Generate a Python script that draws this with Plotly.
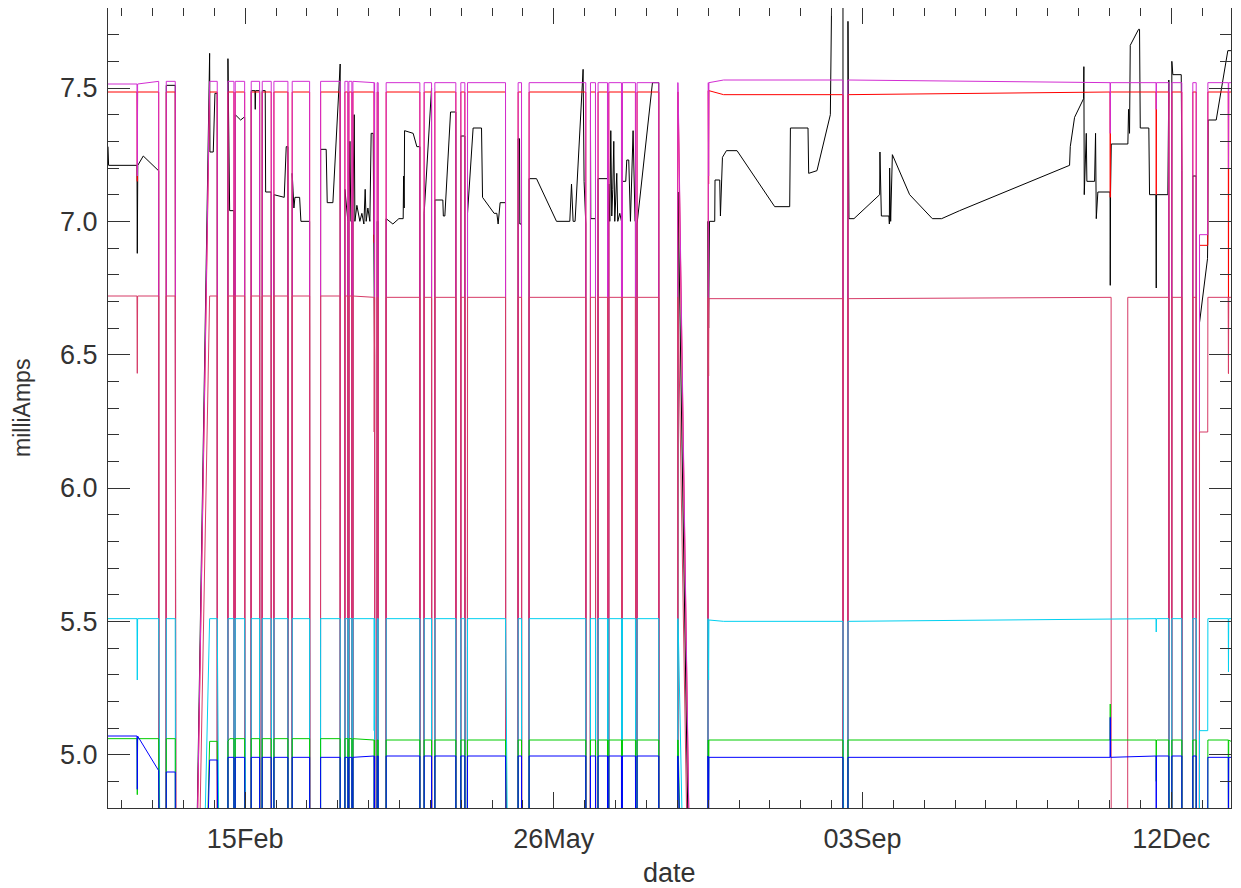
import numpy as np
import pandas as pd
import plotly.graph_objects as go

BASE = pd.Timestamp("2009-01-01")   # day-of-year origin (days below are fractional days after Jan 1)
X_RANGE = [0.57, 364.39]
Y_RANGE = [4.8, 7.8]
Y_TITLE = "milliAmps"
X_TITLE = "date"

# ---- outages shared by all channels (days): last good sample, first zero, last zero, first good
out_a = [16.99, 22.36, 35.96, 41.37, 44.84, 49.69, 53.45, 58.86, 65.89, 75.79, 78.29, 79.58, 86.93,
         88.10, 101.60, 105.39, 113.26, 116.18, 129.36, 134.54, 155.36, 158.50, 162.39, 166.92,
         171.45, 179.00, 185.25, 238.68, 344.25, 348.46, 353.12]
out_b = [17.08, 22.75, 36.06, 41.47, 44.93, 49.79, 53.55, 58.96, 65.98, 75.89, 78.35, 79.65, 87.03,
         88.20, 101.70, 105.49, 113.36, 116.27, 129.45, 134.63, 155.46, 158.60, 162.48, 167.02,
         171.55, 179.10, 194.87, 238.78, 344.35, 348.56, 353.22]
out_c = [19.35, 22.75, 39.33, 41.69, 46.88, 50.44, 54.23, 60.15, 69.35, 77.22, 78.55, 79.84, 87.68,
         90.60, 102.90, 106.36, 114.78, 116.95, 133.34, 136.90, 156.78, 159.25, 162.71, 167.15,
         171.87, 185.05, 194.87, 240.20, 345.12, 351.92, 354.09]
out_d = [19.45, 33.50, 39.43, 41.79, 46.97, 50.54, 54.32, 60.25, 69.45, 77.32, 78.61, 79.91, 87.78,
         90.69, 103.00, 106.46, 114.88, 117.05, 133.44, 137.00, 156.88, 159.34, 162.81, 167.24,
         171.97, 185.15, 194.96, 240.30, 345.22, 352.02, 354.19]

# ---- channel readings (days, milliAmps)
blk_t = [0.57, 0.76, 9.96, 10.06, 10.22, 12.00, 16.92,
         19.45, 22.36,
         33.50, 33.60, 34.67, 35.22, 35.96,
         39.43, 39.98, 41.37,
         41.79, 43.54, 44.61, 44.84,
         46.97, 48.17, 48.27, 48.40, 49.69,
         50.54, 51.51, 51.64, 53.45,
         54.32, 57.66, 58.31, 58.86,
         60.25, 60.80, 61.13, 62.65, 63.07, 65.89,
         69.45, 71.26, 71.59, 73.43, 75.70, 75.79,
         77.32, 78.25, 78.61, 78.94, 79.26, 79.55, 79.91, 80.33, 80.56, 81.20, 82.17, 82.82, 83.47,
         83.89, 84.21, 84.76, 85.41, 85.83, 86.48, 86.81, 86.93,
         87.78, 88.10,
         90.69, 92.86, 94.80, 96.20, 96.33, 96.52, 96.65, 99.43, 100.63, 101.60,
         103.00, 105.39,
         106.46, 109.05, 109.21, 109.70, 111.55, 113.26,
         114.88, 116.18,
         117.05, 118.86, 121.58, 121.91, 125.66, 126.54, 126.96, 127.61, 129.36,
         133.44, 133.89, 133.99, 134.54,
         137.00, 139.40, 145.87, 150.18, 150.73, 151.25, 151.89, 154.49, 154.81, 155.36,
         156.88, 156.98, 158.50,
         159.34, 162.39,
         162.81, 163.13, 163.46, 163.78, 164.10, 164.43, 164.75, 165.40, 165.72, 166.37, 166.92,
         167.24, 168.31, 168.64, 169.28, 169.83, 170.68, 171.32, 171.45,
         171.97, 176.96, 179.00,
         185.15, 185.25,
         194.96, 195.15, 195.42, 197.13, 197.23, 198.75, 198.98, 199.63, 200.92, 204.36, 216.56,
         221.42, 221.65, 227.35, 227.57, 230.26, 234.59, 235.12, 238.68,
         240.30, 240.62, 242.24, 250.57, 250.66, 251.12, 253.58, 253.71, 253.80, 254.13, 254.45,
         254.68, 260.28, 267.63, 270.64, 276.47, 312.09, 312.32, 313.71, 315.33, 316.63, 316.72,
         316.85, 317.50, 317.70, 320.19, 320.51, 320.74, 321.26, 325.21, 325.27, 325.37, 325.60,
         330.98, 331.20, 331.52, 331.75, 334.44, 334.76, 334.99, 337.77, 338.00, 340.04, 340.17,
         340.27, 343.93, 344.15, 344.25,
         345.22, 345.55, 348.27, 348.46,
         352.02, 353.12,
         354.19, 356.78, 356.88, 356.98, 359.60, 361.22, 362.51, 363.36, 364.39]
blk_v = [7.28, 7.21, 7.21, 6.88, 7.21, 7.245, 7.19,
         7.51, 7.51,
         7.63, 7.26, 7.26, 7.48, 7.48,
         7.61, 7.04, 7.04,
         7.40, 7.38, 7.39, 7.39,
         7.49, 7.49, 7.42, 7.49, 7.49,
         7.49, 7.49, 7.11, 7.11,
         7.10, 7.09, 7.28, 7.28,
         7.18, 7.05, 7.09, 7.09, 7.00, 7.00,
         7.27, 7.27, 7.07, 7.07, 7.59, 7.59,
         7.12, 7.00, 7.00, 7.30, 7.00, 7.00, 7.05, 7.40, 7.00, 7.06, 7.00, 7.03, 6.99,
         7.12, 7.00, 7.05, 7.00, 7.33, 7.33, 6.50, 6.50,
         7.00, 7.00,
         7.01, 6.99, 7.01, 7.01, 7.17, 7.05, 7.34, 7.33, 7.28, 7.28,
         7.03, 7.50,
         7.08, 7.08, 7.02, 7.02, 7.41, 7.41,
         7.32, 7.32,
         7.03, 7.35, 7.35, 7.09, 7.03, 7.03, 6.99, 7.07, 7.07,
         7.31, 7.31, 6.99, 6.99,
         7.16, 7.16, 7.00, 7.00, 7.14, 7.00, 7.00, 7.57, 7.15, 6.99,
         7.38, 7.01, 7.01,
         7.16, 7.16,
         7.14, 7.00, 7.34, 7.02, 7.12, 7.30, 7.00, 7.18, 7.00, 7.03, 7.00,
         7.15, 7.15, 7.23, 7.23, 7.00, 7.34, 7.00, 7.00,
         6.99, 7.52, 7.52,
         7.11, 7.11,
         7.00, 6.60, 7.00, 7.00, 7.155, 7.155, 7.02, 7.24, 7.265, 7.265, 7.055,
         7.055, 7.35, 7.35, 7.18, 7.19, 7.40, 7.95, 7.95,
         7.75, 7.01, 7.01, 7.10, 7.26, 7.02, 7.02, 6.99, 7.20, 7.00, 7.24,
         7.25, 7.10, 7.01, 7.01, 7.04, 7.21, 7.28, 7.39, 7.43, 7.46, 7.58,
         7.10, 7.33, 7.15, 7.15, 7.33, 7.01, 7.11, 7.11, 6.76, 7.11, 7.29,
         7.29, 7.42, 7.33, 7.66, 7.72, 7.72, 7.35, 7.35, 7.10, 7.10, 6.75,
         7.10, 7.10, 7.53, 7.53,
         7.60, 7.55, 7.55, 7.19,
         7.17, 7.17,
         6.62, 6.86, 6.95, 7.38, 7.38, 7.50, 7.58, 7.64, 7.64]

red_t = [0.57, 9.96, 10.06, 10.16, 86.75, 86.81, 86.87, 195.05, 195.15, 195.25, 200.0, 325.20, 325.27,
         325.35, 340.10, 340.17, 340.25, 354.19, 356.85, 356.90, 363.50, 363.57, 363.65, 364.39]
red_v = [7.485, 7.485, 7.15, 7.485, 7.485, 6.92, 7.485, 7.49, 7.14, 7.49, 7.475, 7.485, 7.09,
         7.485, 7.485, 7.10, 7.485, 6.91, 6.91, 7.485, 7.485, 6.43, 7.485, 7.485]

mag_t = [0.57, 9.96, 10.06, 10.16, 16.99, 86.75, 86.81, 86.87, 195.05, 195.15, 195.25, 200.0, 325.20,
         325.27, 325.35, 340.10, 340.17, 340.25, 354.19, 356.85, 356.90, 363.50, 363.57, 363.65, 364.39]
mag_v = [7.515, 7.515, 7.17, 7.515, 7.525, 7.52, 6.95, 7.52, 7.52, 7.17, 7.52, 7.53, 7.52,
         7.33, 7.52, 7.52, 7.42, 7.52, 6.95, 6.95, 7.52, 7.52, 7.20, 7.52, 7.52]

pnk_t = [0.57, 9.96, 10.06, 10.16, 86.75, 86.81, 86.87, 195.05, 195.15, 195.25, 325.55, 325.65,
         330.85, 330.95, 354.19, 356.85, 356.90, 363.50, 363.57, 363.65, 364.39]
pnk_v = [6.72, 6.72, 6.43, 6.72, 6.715, 6.21, 6.715, 6.71, 6.42, 6.71, 6.715, 0.0,
         0.0, 6.715, 6.21, 6.21, 6.715, 6.715, 6.43, 6.715, 6.715]

cyn_t = [0.57, 9.96, 10.06, 10.16, 86.75, 86.81, 86.87, 195.05, 195.15, 195.25, 200.0, 340.10,
         340.17, 340.25, 354.19, 356.85, 356.90, 363.50, 363.57, 363.65, 364.39]
cyn_v = [5.51, 5.51, 5.28, 5.51, 5.51, 5.09, 5.51, 5.505, 5.28, 5.505, 5.50, 5.51,
         5.46, 5.51, 5.09, 5.09, 5.51, 5.51, 5.31, 5.51, 5.51]

grn_t = [0.57, 9.96, 10.06, 10.16, 22.36, 33.50, 40.0, 86.75, 86.81, 86.87, 195.05, 195.15, 195.25,
         325.20, 325.27, 325.35, 340.10, 340.17, 340.25, 354.19, 356.85, 356.90, 363.50, 363.57,
         363.65, 364.39]
grn_v = [5.06, 5.06, 4.85, 5.06, 5.06, 5.05, 5.06, 5.055, 4.67, 5.055, 5.055, 4.83, 5.055,
         5.055, 5.19, 5.055, 5.055, 4.90, 5.055, 4.67, 4.67, 5.055, 5.055, 4.60,
         5.055, 5.05]

blu_t = [0.57, 9.96, 10.06, 10.16, 16.99, 19.45, 22.36, 33.50, 36.0, 39.43, 86.75, 86.81, 86.87,
         195.05, 195.15, 195.25, 325.20, 325.27, 325.35, 340.10, 340.17, 340.25, 354.19, 356.85,
         356.90, 363.50, 363.57, 363.65, 364.39]
blu_v = [5.07, 5.07, 4.87, 5.07, 4.94, 4.935, 4.935, 4.98, 4.98, 4.99, 4.995, 4.62, 4.995,
         4.99, 4.60, 4.99, 4.99, 5.14, 4.99, 4.995, 4.50, 4.995, 4.62, 4.62,
         4.99, 4.99, 4.60, 4.99, 4.99]

channels = [
    ("black", blk_t, blk_v, "#000000"),
    ("red", red_t, red_v, "#ff0000"),
    ("magenta", mag_t, mag_v, "#d22ed2"),
    ("rose", pnk_t, pnk_v, "#d63a66"),
    ("cyan", cyn_t, cyn_v, "#00d0f0"),
    ("green", grn_t, grn_v, "#00cc00"),
    ("blue", blu_t, blu_v, "#0000ff"),
]


def held(t, v, x):
    i = int(np.searchsorted(np.asarray(t), x, side="right")) - 1
    return v[max(i, 0)]


def build(t, v):
    pts = [(tt, vv, 0, k) for k, (tt, vv) in enumerate(zip(t, v))]
    for j, (a, b, c, d) in enumerate(zip(out_a, out_b, out_c, out_d)):
        pts.append((a, held(t, v, a), 1, 4 * j))
        pts.append((b, 0.0, 1, 4 * j + 1))
        pts.append((c, 0.0, 1, 4 * j + 2))
        pts.append((d, held(t, v, d), 1, 4 * j + 3))
    pts.sort(key=lambda p: (p[0], p[2], p[3]))
    days = np.array([p[0] for p in pts])
    vals = [p[1] for p in pts]
    return BASE + pd.to_timedelta(days, unit="D"), vals


fig = go.Figure()
for name, t, v, col in channels:
    x, y = build(t, v)
    fig.add_trace(go.Scatter(x=x, y=y, mode="lines", name=name,
                             line=dict(color=col, width=1), hoverinfo="skip", showlegend=False))

x0 = BASE + pd.Timedelta(days=X_RANGE[0])
x1 = BASE + pd.Timedelta(days=X_RANGE[1])
FONT = "Liberation Sans, Arial, sans-serif"
TXT = "#333"
AX = "#333"
DAY_MS = 86400000

fig.update_layout(
    width=1233, height=880,
    margin=dict(l=100, r=10, t=0, b=80, autoexpand=False),
    paper_bgcolor="white", plot_bgcolor="white",
    font=dict(family=FONT, size=27, color=TXT),
    xaxis=dict(type="date", range=[x0, x1], tick0="2009-02-15", dtick=100 * DAY_MS,
               tickformat="%d%b", ticks="inside", ticklen=16, tickwidth=1, tickcolor=AX,
               showline=True, linecolor=AX, linewidth=1, mirror="allticks", automargin=False,
               showgrid=False, zeroline=False, ticklabelstandoff=7,
               tickfont=dict(family=FONT, size=27, color=TXT),
               minor=dict(tick0="2009-02-15", dtick=10 * DAY_MS, ticks="inside", ticklen=8,
                          tickwidth=1, tickcolor=AX, showgrid=False)),
    yaxis=dict(range=Y_RANGE, tick0=5.0, dtick=0.5, tickformat=".1f", ticks="inside",
               ticklen=22, tickwidth=1, tickcolor=AX, showline=True, linecolor=AX,
               linewidth=1, mirror="allticks", showgrid=False, zeroline=False, automargin=False,
               ticklabelstandoff=4, tickfont=dict(family=FONT, size=27, color=TXT),
               minor=dict(dtick=0.1, ticks="inside", ticklen=11, tickwidth=1,
                          tickcolor=AX, showgrid=False)),
    annotations=[
        dict(text=X_TITLE, xref="paper", yref="paper", x=0.5, y=-0.0813, xanchor="center",
             yanchor="middle", showarrow=False, font=dict(family=FONT, size=27, color=TXT)),
        dict(text=Y_TITLE, xref="paper", yref="paper", x=-0.0766, y=0.5, xanchor="center",
             yanchor="middle", textangle=-90, showarrow=False,
             font=dict(family=FONT, size=23, color=TXT)),
    ],
)

fig.write_html("out.html")
